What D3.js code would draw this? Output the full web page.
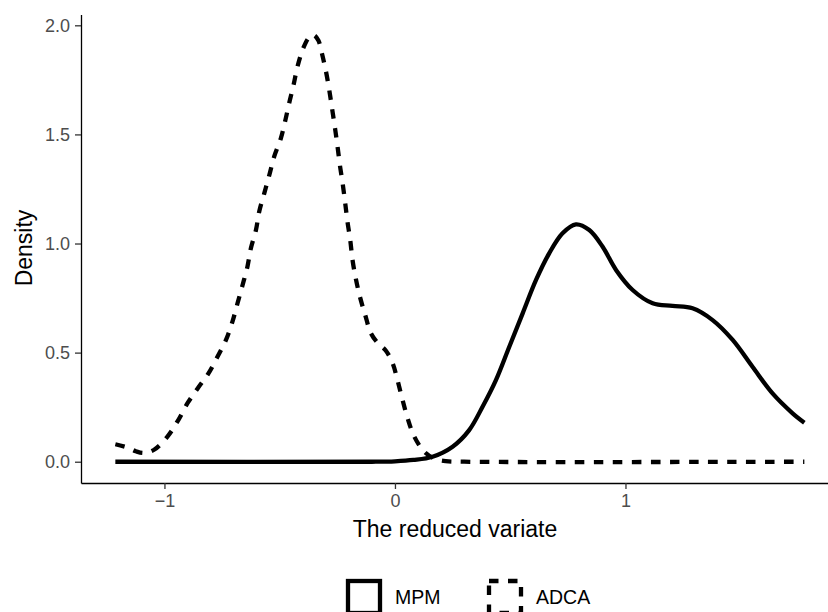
<!DOCTYPE html>
<html>
<head>
<meta charset="utf-8">
<script src="https://cdn.jsdelivr.net/npm/d3@7"></script>
<style>
  body { margin: 0; background: #fff; }
  svg { display: block; font-family: "Liberation Sans", Arial, sans-serif; }
</style>
</head>
<body>
<div id="chart"></div>
<script>
// density curves
const adcaX = [-1.213, -1.16, -1.124, -1.09, -1.045, -0.987, -0.94, -0.9, -0.856, -0.809, -0.77, -0.733,
  -0.705, -0.683, -0.661, -0.64, -0.625, -0.603, -0.589, -0.567, -0.545, -0.524, -0.495, -0.477, -0.459,
  -0.44, -0.423, -0.398, -0.372, -0.352, -0.332, -0.317, -0.299, -0.285, -0.273, -0.26, -0.249, -0.239,
  -0.227, -0.216, -0.206, -0.194, -0.184, -0.17, -0.152, -0.129, -0.104, -0.075, -0.04, -0.01, 0.011,
  0.033, 0.055, 0.084, 0.127, 0.17, 0.22, 0.3, 1.776];
const adcaY = [0.08, 0.065, 0.048, 0.04, 0.055, 0.115, 0.191, 0.268, 0.336, 0.405, 0.481, 0.558,
  0.642, 0.726, 0.81, 0.894, 0.978, 1.062, 1.146, 1.23, 1.314, 1.398, 1.482, 1.558, 1.643,
  1.726, 1.81, 1.895, 1.945, 1.955, 1.93, 1.872, 1.787, 1.703, 1.62, 1.528, 1.444, 1.36,
  1.276, 1.187, 1.1, 1.016, 0.924, 0.84, 0.756, 0.672, 0.588, 0.545, 0.51, 0.451, 0.374,
  0.283, 0.199, 0.115, 0.046, 0.015, 0.003, 0, 0];

const mpmX = [-1.213, -0.1, 0, 0.08, 0.163, 0.25, 0.322, 0.38, 0.438, 0.496, 0.554, 0.612, 0.669,
  0.727, 0.785, 0.843, 0.901, 0.959, 1.031, 1.118, 1.204, 1.291, 1.378, 1.465, 1.551, 1.638, 1.725, 1.776];
const mpmY = [0, 0, 0.002, 0.008, 0.023, 0.069, 0.145, 0.252, 0.374, 0.527, 0.68, 0.833, 0.955,
  1.047, 1.088, 1.062, 0.985, 0.879, 0.787, 0.726, 0.714, 0.703, 0.649, 0.558, 0.435, 0.313, 0.222, 0.179];

const seriesNames = ["MPM", "ADCA"];
const xTicks = [-1, 0, 1];
const yTicks = [0, 0.5, 1, 1.5, 2];

const width = 828, height = 612;
const svg = d3.select("#chart").append("svg")
  .attr("width", width).attr("height", height);

const x = d3.scaleLinear().domain([-1.362, 1.925]).range([81, 838.7]);
const y = d3.scaleLinear().domain([-0.0975, 2.05]).range([483, 14.4]);

const series = [
  { name: "MPM", pts: d3.zip(mpmX, mpmY), dash: null },
  { name: "ADCA", pts: d3.zip(adcaX, adcaY), dash: "9.5 9.5" },
];

const line = d3.line()
  .x((d) => x(d[0]))
  .y((d) => y(d[1]))
  .curve(d3.curveCatmullRom.alpha(0.5));

svg.selectAll("path.curve")
  .data(series)
  .join("path")
  .attr("class", "curve")
  .attr("d", (d) => line(d.pts))
  .attr("fill", "none")
  .attr("stroke", "#000")
  .attr("stroke-width", 4.3)
  .attr("stroke-dasharray", (d) => d.dash);

// axes, classic theme
const xAxis = svg.append("g")
  .attr("transform", `translate(0,${483})`)
  .call(d3.axisBottom(x).tickValues(xTicks).tickSize(6).tickSizeOuter(0).tickPadding(5)
    .tickFormat((d) => d3.format("")(d).replace("-", "\u2212")));
const yAxis = svg.append("g")
  .attr("transform", `translate(${81},0)`)
  .call(d3.axisLeft(y).tickValues(yTicks).tickSize(6).tickSizeOuter(0).tickPadding(5)
    .tickFormat(d3.format(".1f")));

for (const g of [xAxis, yAxis]) {
  g.select(".domain").attr("stroke", "#000").attr("stroke-width", 1.3);
  g.selectAll(".tick line").attr("stroke", "#333").attr("stroke-width", 1.3);
  g.selectAll(".tick text")
    .attr("fill", "#4d4d4d")
    .style("font-size", "18px")
    .style("font-family", "Liberation Sans, Arial, sans-serif");
}

svg.append("text")
  .attr("x", 455).attr("y", 537)
  .attr("text-anchor", "middle")
  .style("font-size", "23px")
  .text("The reduced variate");

svg.append("text")
  .attr("transform", "translate(32,248) rotate(-90)")
  .attr("text-anchor", "middle")
  .style("font-size", "23px")
  .text("Density");

// legend
const legendX = [348, 489];
const legend = svg.selectAll("g.key")
  .data(series)
  .join("g")
  .attr("class", "key")
  .attr("transform", (d, i) => `translate(${legendX[i]},581)`);

legend.append("rect")
  .attr("width", 32).attr("height", 32)
  .attr("fill", "#fff")
  .attr("stroke", "#000")
  .attr("stroke-width", 4.3)
  .attr("stroke-dasharray", (d) => d.dash);

legend.append("text")
  .attr("x", 47).attr("y", 23)
  .style("font-size", "19.5px")
  .text((d, i) => seriesNames[i]);
</script>
</body>
</html>
